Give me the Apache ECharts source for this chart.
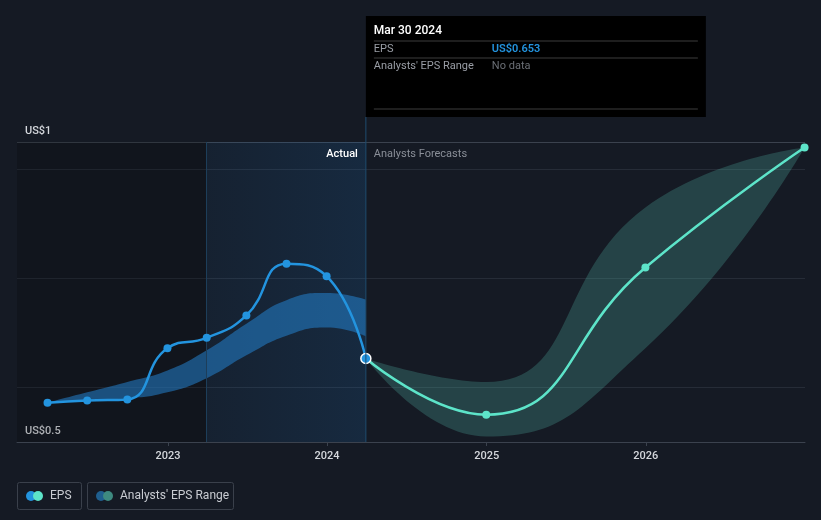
<!DOCTYPE html>
<html>
<head>
<meta charset="utf-8">
<script src="https://cdn.jsdelivr.net/npm/echarts@6/dist/echarts.min.js"></script>
<style>
html,body{margin:0;padding:0;background:#151a24;}
#chart{width:821px;height:520px;}
</style>
</head>
<body>
<div id="chart"></div>
<script>
// ---- data ----
const actualDates = ['2022-03-31','2022-06-30','2022-09-30','2022-12-31','2023-03-31','2023-06-30','2023-09-30','2023-12-31','2024-03-30'];
const actualEps   = [0.572, 0.576, 0.578, 0.672, 0.691, 0.732, 0.827, 0.804, 0.653];
const pastRangeLow  = [0.572, 0.577, 0.580, 0.591, 0.617, 0.659, 0.695, 0.710, 0.694];
const pastRangeHigh = [0.572, 0.591, 0.610, 0.631, 0.668, 0.717, 0.760, 0.773, 0.761];

const forecastDates = ['2024-03-30','2024-12-31','2025-12-31','2026-12-31'];
const forecastEps   = [0.653, 0.550, 0.820, 1.040];
const forecastLow   = [0.653, 0.510, 0.672, 1.040];
const forecastHigh  = [0.653, 0.610, 0.930, 1.040];

const xMin = '2022-01-20';
const xMax = '2027-01-01';
const pastStart = '2023-03-31';
const presentDate = '2024-03-30';

const yLabelValues = [0.5, 1.05];
const yLabelTexts  = ['US$0.5', 'US$1'];

const tooltipTitle = 'Mar 30 2024';
const tooltipRows = [['EPS', 'US$0.653'], ["Analysts' EPS Range", 'No data']];
const legendItems = ['EPS', "Analysts' EPS Range"];

// ---- chart ----
const FONT = 'Roboto, "Noto Sans", sans-serif';
const chart = echarts.init(document.getElementById('chart'), null, {renderer: 'canvas'});

const pair = (dates, vals) => dates.map((d, i) => [d, vals[i]]);
const diff = (dates, lo, hi) => dates.map((d, i) => [d, +(hi[i] - lo[i]).toFixed(4)]);

const epsData = actualDates.map((d, i) => {
  const item = {value: [d, actualEps[i]]};
  if (i === actualDates.length - 1) {
    item.symbolSize = 10;
    item.itemStyle = {color: '#2394df', borderColor: '#ffffff', borderWidth: 1.5};
  }
  return item;
});
const fcData = forecastDates.map((d, i) => {
  const item = {value: [d, forecastEps[i]]};
  if (i === 0) item.symbol = 'none';
  return item;
});

const option = {
  backgroundColor: '#151a24',
  animation: false,
  grid: {left: 17, right: 16, top: 142, bottom: 78, containLabel: false},
  xAxis: {
    type: 'time',
    min: xMin,
    max: xMax,
    minInterval: 3600 * 24 * 1000 * 365,
    axisLine: {show: true, lineStyle: {color: '#3b424e', width: 1}},
    axisTick: {show: true, length: 4, lineStyle: {color: '#3b424e'}},
    splitLine: {show: false},
    axisLabel: {
      color: '#d4d7dc', fontFamily: FONT, fontSize: 11, fontWeight: 500, margin: 9,
      showMinLabel: false, showMaxLabel: false,
      formatter: function (v) {
        const d = new Date(v);
        return (d.getMonth() === 0 && d.getDate() === 1) ? String(d.getFullYear()) : '';
      }
    }
  },
  yAxis: {
    type: 'value',
    min: 0.5,
    max: 1.05,
    interval: 0.1,
    axisLine: {show: false},
    axisTick: {show: false},
    splitLine: {show: true, lineStyle: {color: ['transparent', '#262c37', 'transparent', '#262c37', 'transparent', '#262c37', '#3b424e'], width: 1}},
    axisLabel: {
      inside: true, margin: 8, color: '#d4d7dc', fontFamily: FONT, fontSize: 11, fontWeight: 500,
      verticalAlign: 'bottom', padding: [0, 0, 5, 0],
      formatter: function (v) {
        for (let i = 0; i < yLabelValues.length; i++) {
          if (Math.abs(v - yLabelValues[i]) < 1e-6) return yLabelTexts[i];
        }
        return '';
      }
    }
  },
  series: [
    {
      name: 'bg', type: 'line', data: [], silent: true,
      markArea: {
        silent: true,
        data: [
          [{xAxis: xMin, itemStyle: {color: 'rgba(0,0,0,0.18)'}}, {xAxis: pastStart}],
          [{xAxis: pastStart, itemStyle: {color: {type: 'linear', x: 0, y: 0, x2: 1, y2: 0,
            colorStops: [{offset: 0, color: 'rgba(30,120,200,0.08)'}, {offset: 1, color: 'rgba(30,120,200,0.17)'}]}}},
           {xAxis: presentDate}]
        ]
      },
      markLine: {
        silent: true, symbol: 'none', label: {show: false},
        lineStyle: {color: '#1d3e5a', type: 'solid', width: 1},
        data: [{xAxis: pastStart}]
      }
    },
    {
      name: 'pastLow', type: 'line', stack: 'past', smooth: 0.5, symbol: 'none',
      lineStyle: {opacity: 0}, data: pair(actualDates, pastRangeLow), z: 2
    },
    {
      name: 'pastBand', type: 'line', stack: 'past', smooth: 0.5, symbol: 'none',
      lineStyle: {opacity: 0}, areaStyle: {color: 'rgba(36,130,205,0.55)', opacity: 1},
      data: diff(actualDates, pastRangeLow, pastRangeHigh), z: 2
    },
    {
      name: 'fcLow', type: 'line', stack: 'fc', smooth: 0.5, symbol: 'none',
      lineStyle: {opacity: 0}, data: pair(forecastDates, forecastLow), z: 2
    },
    {
      name: 'fcBand', type: 'line', stack: 'fc', smooth: 0.5, symbol: 'none',
      lineStyle: {opacity: 0}, areaStyle: {color: 'rgba(82,180,165,0.27)', opacity: 1},
      data: diff(forecastDates, forecastLow, forecastHigh), z: 2
    },
    {
      name: 'Forecast', type: 'line', smooth: 0.5, symbol: 'circle', symbolSize: 8,
      lineStyle: {color: '#5de4c9', width: 2.5}, itemStyle: {color: '#5de4c9'},
      data: fcData, z: 4
    },
    {
      name: 'EPS', type: 'line', smooth: 0.5, symbol: 'circle', symbolSize: 8,
      lineStyle: {color: '#2394df', width: 2.5}, itemStyle: {color: '#2394df'},
      data: epsData, z: 5
    }
  ]
};
chart.setOption(option);

// ---- overlay: tooltip box, labels, legend ----
const px = chart.convertToPixel({xAxisIndex: 0}, presentDate);
const gridTop = chart.convertToPixel({yAxisIndex: 0}, 1.05);
const gridBottom = chart.convertToPixel({yAxisIndex: 0}, 0.5);
const tipLeft = px, tipTop = 16, tipW = 340, tipH = 101;

const graphics = [];
graphics.push({type: 'line', silent: true, z: 10, shape: {x1: px, y1: tipTop + tipH, x2: px, y2: gridBottom},
  style: {stroke: '#1f4c6e', lineWidth: 1}});
graphics.push({type: 'rect', silent: true, z: 20, shape: {x: tipLeft, y: tipTop, width: tipW, height: tipH},
  style: {fill: '#000000'}});
graphics.push({type: 'text', silent: true, z: 21, x: tipLeft + 8, y: 31,
  style: {text: tooltipTitle, fill: '#ffffff', font: '500 12px ' + FONT, verticalAlign: 'middle'}});
[41, 58, 109].forEach(function (yy) {
  graphics.push({type: 'line', silent: true, z: 21, shape: {x1: tipLeft + 8, y1: yy, x2: tipLeft + tipW - 8, y2: yy},
    style: {stroke: '#3c3c3c', lineWidth: 1}});
});
const rowY = [49, 66];
tooltipRows.forEach(function (r, i) {
  graphics.push({type: 'text', silent: true, z: 21, x: tipLeft + 8, y: rowY[i],
    style: {text: r[0], fill: '#9a9ea6', font: '11px ' + FONT, verticalAlign: 'middle'}});
  graphics.push({type: 'text', silent: true, z: 21, x: tipLeft + 126, y: rowY[i],
    style: {text: r[1], fill: i === 0 ? '#2394df' : '#6b6f76', font: (i === 0 ? '600 ' : '') + '11px ' + FONT, verticalAlign: 'middle'}});
});
graphics.push({type: 'text', silent: true, z: 21, x: px - 8, y: gridTop + 12,
  style: {text: 'Actual', fill: '#ffffff', font: '500 11px ' + FONT, align: 'right', verticalAlign: 'middle'}});
graphics.push({type: 'text', silent: true, z: 21, x: px + 8, y: gridTop + 12,
  style: {text: 'Analysts Forecasts', fill: '#8a8f98', font: '11px ' + FONT, align: 'left', verticalAlign: 'middle'}});

// legend
const legendBoxes = [{x: 17, w: 64, c1: '#2394df', c2: '#5de4c9'}, {x: 87, w: 146, c1: '#1f5f8f', c2: '#3e8a80'}];
legendBoxes.forEach(function (b, i) {
  graphics.push({type: 'rect', silent: true, z: 20, shape: {x: b.x + 0.5, y: 482.5, width: b.w, height: 27, r: 2},
    style: {fill: 'transparent', stroke: '#3a404b', lineWidth: 1}});
  graphics.push({type: 'circle', silent: true, z: 21, shape: {cx: b.x + 14, cy: 496, r: 5}, style: {fill: b.c1}});
  graphics.push({type: 'circle', silent: true, z: 22, shape: {cx: b.x + 21, cy: 496, r: 5}, style: {fill: b.c2}});
  graphics.push({type: 'text', silent: true, z: 21, x: b.x + 33, y: 496,
    style: {text: legendItems[i], fill: '#c9ccd2', font: '12px ' + FONT, verticalAlign: 'middle'}});
});
chart.setOption({graphic: graphics});
</script>
</body>
</html>
